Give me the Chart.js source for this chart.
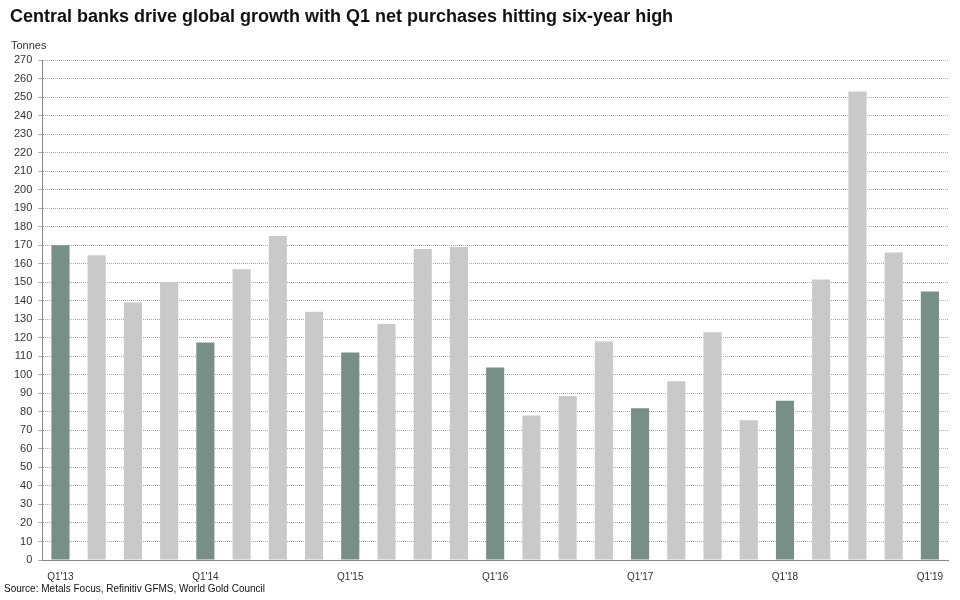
<!DOCTYPE html>
<html>
<head>
<meta charset="utf-8">
<script src="https://cdn.jsdelivr.net/npm/chart.js@4/dist/chart.umd.min.js"></script>
<style>
  body { margin: 0; background: #fff; font-family: "Liberation Sans", Arial, sans-serif; }
  #wrap { position: relative; width: 960px; height: 600px; }
  #title { position: absolute; left: 10px; top: 6px; font-size: 18px; font-weight: bold; color: #111; }
  #unit { position: absolute; left: 11px; top: 39px; font-size: 11px; color: #333; }
  #source { position: absolute; left: 4px; top: 583px; font-size: 10px; color: #111; }
  canvas { position: absolute; left: 0; top: 0; }
</style>
</head>
<body>
<div id="wrap">
  <canvas id="chart" width="960" height="600"></canvas>
  <div id="title">Central banks drive global growth with Q1 net purchases hitting six-year high</div>
  <div id="unit">Tonnes</div>
  <div id="source">Source: Metals Focus, Refinitiv GFMS, World Gold Council</div>
</div>
<script>
// Trimestres Q1'13 .. Q1'19
const quarters = ["Q1'13","","","","Q1'14","","","","Q1'15","","","","Q1'16","","","","Q1'17","","","","Q1'18","","","","Q1'19"];
const tonnes = [170, 164.5, 139, 150, 117.5, 157, 175, 134, 112, 127.5, 168, 169, 104, 78, 88.5, 118, 82, 96.5, 123, 75.5, 86, 151.5, 253, 166, 145];

const dark = '#778f84';
const light = '#c9c9c9';
const barColors = quarters.map(q => q ? dark : light);

new Chart(document.getElementById('chart'), {
  type: 'bar',
  data: {
    labels: quarters,
    datasets: [{ data: tonnes, backgroundColor: barColors, barPercentage: 0.5, categoryPercentage: 1 }]
  },
  options: {
    responsive: false,
    animation: false,
    layout: { padding: { left: 8, right: 12, top: 60, bottom: 14 } },
    plugins: { legend: { display: false }, tooltip: { enabled: false } },
    scales: {
      x: {
        grid: { display: false },
        border: { color: '#888' },
        ticks: { autoSkip: false, maxRotation: 0, color: '#333', font: { family: 'Liberation Sans', size: 10 } }
      },
      y: {
        min: 0, max: 270,
        ticks: { stepSize: 10, color: '#333', padding: 6, font: { family: 'Liberation Sans', size: 11 } },
        grid: { color: '#aaa', drawTicks: true, tickLength: 4 },
        border: { color: '#888', dash: [1, 1] }
      }
    }
  }
});
</script>
</body>
</html>
